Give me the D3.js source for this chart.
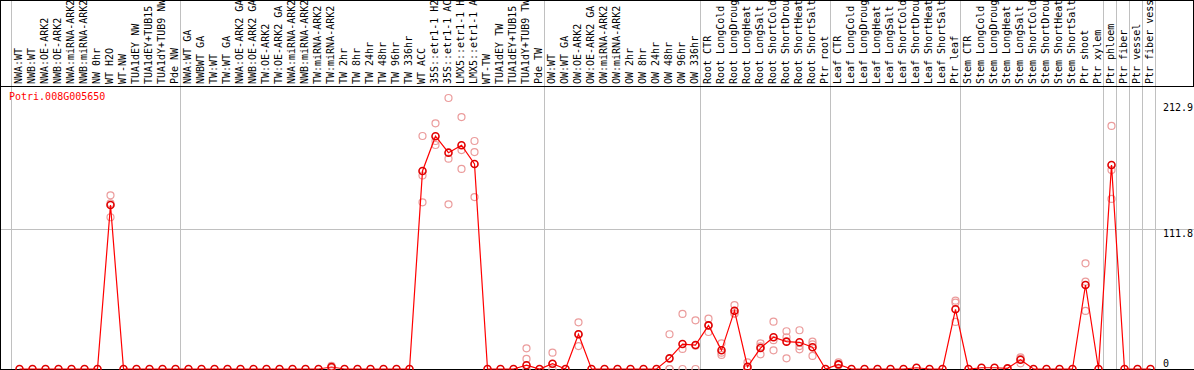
<!DOCTYPE html>
<html>
<head>
<meta charset="utf-8">
<script src="https://cdn.jsdelivr.net/npm/d3@7"></script>
<style>
  body { margin: 0; background: #fff; }
  text { font-family: "DejaVu Sans Mono", monospace; font-size: 10px; }
</style>
</head>
<body>
<div id="chart"></div>
<script>
const geneId = 'Potri.008G005650'

const categories = [
  'NWA:WT', 'NWB:WT', 'NWA:OE-ARK2', 'NWB:OE-ARK2', 'NWA:miRNA-ARK2', 'NWB:miRNA-ARK2',
  'NW 0hr', 'WT H2O', 'WT-NW', 'TUA1dEY NW', 'TUA1dEY+TUB15', 'TUA1dY+TUB9 NW', 'Pde NW',
  'NWA:WT GA', 'NWBWT GA', 'TW:WT', 'TW:WT GA', 'NWA:OE-ARK2 GA', 'NWB:OE-ARK2 GA',
  'TW:OE-ARK2', 'TW:OE-ARK2 GA', 'NWA:miRNA-ARK2', 'NWB:miRNA-ARK2', 'TW:miRNA-ARK2',
  'TW:miRNA-ARK2', 'TW 2hr', 'TW 8hr', 'TW 24hr', 'TW 48hr', 'TW 96hr', 'TW 336hr',
  'WT ACC', '35S::etr1-1 H2', '35S::etr1-1 AC', 'LMX5::etr1-1 H', 'LMX5::etr1-1 A',
  'WT-TW', 'TUA1dEY TW', 'TUA1dEY+TUB15', 'TUA1dY+TUB9 TW', 'Pde TW',
  'OW:WT', 'OW:WT GA', 'OW:OE-ARK2', 'OW:OE-ARK2 GA', 'OW:miRNA-ARK2', 'OW:miRNA-ARK2',
  'OW 2hr', 'OW 8hr', 'OW 24hr', 'OW 48hr', 'OW 96hr', 'OW 336hr',
  'Root CTR', 'Root LongCold', 'Root LongDroug', 'Root LongHeat', 'Root LongSalt',
  'Root ShortCold', 'Root ShortDrou', 'Root ShortHeat', 'Root ShortSalt', 'Ptr root',
  'Leaf CTR', 'Leaf LongCold', 'Leaf LongDroug', 'Leaf LongHeat', 'Leaf LongSalt',
  'Leaf ShortCold', 'Leaf ShortDrou', 'Leaf ShortHeat', 'Leaf ShortSalt', 'Ptr leaf',
  'Stem CTR', 'Stem LongCold', 'Stem LongDroug', 'Stem LongHeat', 'Stem LongSalt',
  'Stem ShortCold', 'Stem ShortDrou', 'Stem ShortHeat', 'Stem ShortSalt', 'Ptr shoot',
  'Ptr xylem', 'Ptr phloem', 'Ptr fiber', 'Ptr vessel', 'Ptr fiber vess'
]

// mean expression per sample
const means = [
  0, 0, 0, 0, 0, 0, 0, 130.8, 0, 0, 0, 0, 0,
  0, 0, 0, 0, 0, 0, 0, 0, 0, 0, 0, 1.6, 0, 0, 0, 0, 0, 0,
  157.9, 185.6, 172.5, 178.4, 163.5, 0, 0, 0, 3.0, 0,
  4.2, 0, 27.7, 0, 0, 0, 0, 0, 0, 8.5, 19.9, 19.1,
  34.8, 14.9, 46.5, 1.8, 16.7, 25.3, 21.8, 21.3, 17.3, 0,
  3.7, 0, 0, 0, 0, 0, 1.0, 0, 0, 47.6,
  0, 1.0, 1.0, 0.5, 7.4, 0, 0, 0, 0, 67.0,
  0, 162.7, 0, 0, 0
]

// individual replicates (only where they differ from zero)
const replicates = {
  7: [138.5, 132.1, 121.0],
  24: [2.5, 1.5, 0.8],
  31: [185.8, 154.3, 132.9],
  32: [195.9, 178.6, 181.8],
  33: [216.1, 167.7, 131.3],
  34: [200.9, 174.6, 159.5],
  35: [181.8, 173.0, 137.1],
  39: [16.5, 8.0, 0],
  41: [13.0, 4.0, 0],
  43: [37.2, 18.3, 27.6],
  50: [27.7, 0, 0],
  51: [43.9, 16.0, 0],
  52: [38.8, 18.6, 0],
  53: [40.1, 29.5, 34.8],
  54: [20.5, 11.2, 13.0],
  55: [51.0, 44.4, 44.0],
  56: [5.3, 0, 0],
  57: [20.5, 11.7, 18.0],
  58: [37.7, 14.9, 23.0],
  59: [30.1, 25.3, 8.5],
  60: [30.9, 15.7, 18.3],
  61: [21.8, 10.4, 19.6],
  63: [5.3, 3.5, 3.0],
  72: [54.5, 52.9, 37.5],
  77: [9.3, 4.5, 8.0],
  82: [84.3, 69.6, 46.3],
  84: [193.8, 158.7, 135.6]
}

// index of the first sample of each group (last one closes the plot)
const groupStarts = [0, 13, 41, 53, 63, 73, 84, 85, 86, 87, 88]
const yTicks = [0, 111.8, 212.9]

const width = 1194
const height = 370
const headerBottom = 86
const n = categories.length

const svg = d3.select('#chart').append('svg')
  .attr('width', width)
  .attr('height', height)
  .style('display', 'block')

const x = d3.scaleBand()
  .domain(d3.range(n))
  .range([13, 13 + 13 * n])
const cx = i => x(i) + x.bandwidth() / 2

const y = d3.scaleLinear()
  .domain([0, 212.9])
  .range([369, 102])

// vertical group separators
svg.append('g')
  .selectAll('line')
  .data(groupStarts)
  .join('line')
  .attr('x1', d => Math.round((d < n ? x(d) : x.range()[1]) - 2) + 0.5)
  .attr('x2', d => Math.round((d < n ? x(d) : x.range()[1]) - 2) + 0.5)
  .attr('y1', 0)
  .attr('y2', height)
  .attr('stroke', '#c0c0c0')
  .attr('stroke-width', 1)

// middle horizontal grid line
svg.append('line')
  .attr('x1', 0).attr('x2', width)
  .attr('y1', Math.round(y(111.8)) + 0.5)
  .attr('y2', Math.round(y(111.8)) + 0.5)
  .attr('stroke', '#c0c0c0')

// sample labels
svg.append('g')
  .selectAll('text')
  .data(categories)
  .join('text')
  .attr('transform', (d, i) => `translate(${cx(i) + 2.5},84) rotate(-90)`)
  .attr('fill', '#000')
  .text(d => d)

// frame
svg.append('line').attr('x1', 0).attr('x2', width).attr('y1', 0.5).attr('y2', 0.5).attr('stroke', '#000')
svg.append('line').attr('x1', 0).attr('x2', width).attr('y1', headerBottom + 0.5).attr('y2', headerBottom + 0.5).attr('stroke', '#000')
svg.append('line').attr('x1', 0.5).attr('x2', 0.5).attr('y1', 0).attr('y2', height).attr('stroke', '#000')
svg.append('line').attr('x1', width - 0.5).attr('x2', width - 0.5).attr('y1', 0).attr('y2', headerBottom).attr('stroke', '#000')
svg.append('line').attr('x1', 0).attr('x2', width).attr('y1', 369.5).attr('y2', 369.5).attr('stroke', '#000')

// y axis labels on the right
const yAxis = d3.axisRight(y)
  .tickValues(yTicks)
  .tickSize(0)
  .tickPadding(0)
  .tickFormat(d => String(d))

const yAxisG = svg.append('g')
  .attr('transform', 'translate(1163,0)')
  .call(yAxis)
yAxisG.select('.domain').remove()
yAxisG.selectAll('text')
  .attr('x', 0)
  .attr('dy', 0)
  .attr('y', d => d === 0 ? -3 : 8)
  .attr('fill', '#000')
  .style('font-family', '"DejaVu Sans Mono", monospace')
  .style('font-size', '10px')

// replicate points
const repPoints = []
for (let [i, vals] of Object.entries(replicates)) {
  vals.forEach(v => repPoints.push({ i: +i, v: v }))
}
svg.append('g')
  .selectAll('circle')
  .data(repPoints)
  .join('circle')
  .attr('cx', d => cx(d.i))
  .attr('cy', d => y(d.v))
  .attr('r', 3.5)
  .attr('fill', 'none')
  .attr('stroke', '#eb9c9c')
  .attr('stroke-width', 1.2)

// mean line
const line = d3.line()
  .x((d, i) => cx(i))
  .y(d => y(d))

svg.append('path')
  .datum(means)
  .attr('d', line)
  .attr('fill', 'none')
  .attr('stroke', '#ff0000')
  .attr('stroke-width', 1.2)

// mean points
svg.append('g')
  .selectAll('circle')
  .data(means)
  .join('circle')
  .attr('cx', (d, i) => cx(i))
  .attr('cy', d => y(d))
  .attr('r', 3.5)
  .attr('fill', 'none')
  .attr('stroke', '#e00000')
  .attr('stroke-width', 1.6)

// gene id
svg.append('text')
  .attr('x', 9)
  .attr('y', 100)
  .attr('fill', '#ff0000')
  .text(geneId)
</script>
</body>
</html>
